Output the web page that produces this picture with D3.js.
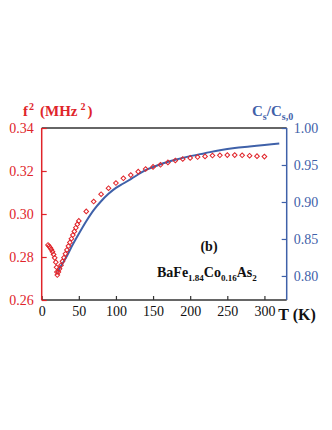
<!DOCTYPE html>
<html>
<head>
<meta charset="utf-8">
<script src="https://cdn.jsdelivr.net/npm/d3@7"></script>
<style>
  body { margin: 0; background: #fff; }
  svg { display: block; font-family: "Liberation Serif", "DejaVu Serif", serif; }
</style>
</head>
<body>
<svg id="chart" width="332" height="430"></svg>
<script>
// f^2 data (open red diamonds)
const fTemps = [8.5, 10, 11.5, 13, 14.5, 16, 17.5, 19, 20, 20.5, 21,
  22.5, 24, 26, 28, 30, 32, 34, 36, 38, 40, 42, 44, 46, 48, 50,
  60, 70, 80, 90, 100, 110, 120, 130, 140, 150, 160, 170, 180, 190, 200,
  210, 220, 230, 240, 250, 260, 270, 280, 290, 300];
const fSquared = [0.2856, 0.2850, 0.2843, 0.2835, 0.2825, 0.2812, 0.2796, 0.2776, 0.2752, 0.2730, 0.2716,
  0.2730, 0.2745, 0.2762, 0.2780, 0.2797, 0.2815, 0.2833, 0.2851, 0.2868, 0.2885, 0.2902, 0.2919, 0.2936, 0.2952, 0.2968,
  0.3012, 0.3058, 0.3092, 0.3120, 0.3144, 0.3166, 0.3181, 0.3197, 0.3209, 0.3219, 0.3229, 0.3240, 0.3249, 0.3256, 0.3261,
  0.3265, 0.3268, 0.3272, 0.3273, 0.3274, 0.3274, 0.3273, 0.3271, 0.3269, 0.3267];

// Cs/Cs,0 curve (blue line)
const cTemps = [21, 25, 30, 35, 40, 50, 60, 70, 80, 90, 100, 110, 120, 140, 160, 180, 200, 220, 240, 260, 280, 300, 320];
const cRatio = [0.806, 0.812, 0.820, 0.829, 0.839, 0.857, 0.874, 0.889, 0.901, 0.911, 0.919, 0.925, 0.931,
  0.943, 0.951, 0.957, 0.962, 0.966, 0.970, 0.973, 0.975, 0.977, 0.979];

const xTicks = [0, 50, 100, 150, 200, 250, 300];
const leftTicks = [0.26, 0.28, 0.30, 0.32, 0.34];
const rightTicks = [0.80, 0.85, 0.90, 0.95, 1.00];

const RED = '#e0242a', BLUE = '#3f61a9', DARK = '#333';
const L = 41.7, R = 286.7, T = 128, B = 300;

const svg = d3.select('#chart');
const x = d3.scaleLinear().domain([0, 330]).range([L, R]);
const yL = d3.scaleLinear().domain([0.26, 0.34]).range([B, T]);
const yR = d3.scaleLinear().domain([0.7675, 1.0]).range([B, T]);

// frame top
svg.append('line').attr('x1', L).attr('x2', R).attr('y1', T).attr('y2', T)
  .attr('stroke', DARK).attr('stroke-width', 1.5);

// bottom axis
const gx = svg.append('g').attr('transform', `translate(0,${B})`)
  .call(d3.axisBottom(x).tickValues(xTicks).tickFormat(d3.format('d')).tickSize(-4).tickPadding(6));
gx.select('.domain').attr('stroke', DARK).attr('stroke-width', 1.5).attr('d', `M${L},0H${R}`);
gx.selectAll('.tick line').attr('stroke', DARK).attr('stroke-width', 1.2);
gx.selectAll('text').attr('font-size', 14).attr('fill', '#111').attr('font-family', 'Liberation Serif');

// left axis
const gl = svg.append('g').attr('transform', `translate(${L},0)`)
  .call(d3.axisLeft(yL).tickValues(leftTicks).tickFormat(d3.format('.2f')).tickSize(-5).tickPadding(8));
gl.select('.domain').attr('stroke', RED).attr('stroke-width', 1.5).attr('d', `M0,${B}V${T}`);
gl.selectAll('.tick line').attr('stroke', RED).attr('stroke-width', 1.2);
gl.selectAll('text').attr('font-size', 14).attr('fill', RED).attr('font-family', 'Liberation Serif');

// right axis
const gr = svg.append('g').attr('transform', `translate(${R},0)`)
  .call(d3.axisRight(yR).tickValues(rightTicks).tickFormat(d3.format('.2f')).tickSize(-5).tickPadding(7));
gr.select('.domain').attr('stroke', BLUE).attr('stroke-width', 1.5).attr('d', `M0,${B}V${T}`);
gr.selectAll('.tick line').attr('stroke', BLUE).attr('stroke-width', 1.2);
gr.selectAll('text').attr('font-size', 14).attr('fill', BLUE).attr('font-family', 'Liberation Serif');

// blue curve
const line = d3.line().x(d => x(d[0])).y(d => yR(d[1])).curve(d3.curveMonotoneX);
svg.append('path').datum(cTemps.map((t, i) => [t, cRatio[i]]))
  .attr('d', line).attr('fill', 'none').attr('stroke', BLUE).attr('stroke-width', 2);

// red diamonds
const sym = d3.symbol().type(d3.symbolSquare).size(11);
svg.append('g').selectAll('path').data(fTemps.map((t, i) => [t, fSquared[i]])).join('path')
  .attr('d', sym)
  .attr('transform', d => `translate(${x(d[0])},${yL(d[1])}) rotate(45)`)
  .attr('fill', 'none').attr('stroke', RED).attr('stroke-width', 1);

// axis titles
const lt = svg.append('text').attr('x', 23).attr('y', 116).attr('fill', RED)
  .attr('font-size', 15).attr('font-weight', 'bold');
lt.append('tspan').text('f');
lt.append('tspan').attr('dx', 1).attr('dy', -6).attr('font-size', 10).text('2');
lt.append('tspan').attr('dx', 6).attr('dy', 6).text('(MHz');
lt.append('tspan').attr('dx', 3).attr('dy', -6).attr('font-size', 10).text('2');
lt.append('tspan').attr('dx', 2).attr('dy', 6).text(')');

const rt = svg.append('text').attr('x', 252).attr('y', 116).attr('fill', BLUE)
  .attr('font-size', 15).attr('font-weight', 'bold');
rt.append('tspan').text('C');
rt.append('tspan').attr('dy', 4).attr('font-size', 10).text('s');
rt.append('tspan').attr('dy', -4).text('/C');
rt.append('tspan').attr('dy', 4).attr('font-size', 10).text('s,0');

svg.append('text').attr('x', 297).attr('y', 320).attr('text-anchor', 'middle')
  .attr('font-size', 16).attr('font-weight', 'bold').attr('fill', '#111').text('T (K)');

// annotation
svg.append('text').attr('x', 209).attr('y', 251).attr('text-anchor', 'middle')
  .attr('font-size', 14).attr('font-weight', 'bold').attr('fill', '#111').text('(b)');
const cmp = svg.append('text').attr('x', 157).attr('y', 277).attr('fill', '#111')
  .attr('font-size', 14).attr('font-weight', 'bold');
cmp.append('tspan').text('BaFe');
cmp.append('tspan').attr('dy', 4).attr('font-size', 9).text('1.84');
cmp.append('tspan').attr('dy', -4).text('Co');
cmp.append('tspan').attr('dy', 4).attr('font-size', 9).text('0.16');
cmp.append('tspan').attr('dy', -4).text('As');
cmp.append('tspan').attr('dy', 4).attr('font-size', 9).text('2');
</script>
</body>
</html>
